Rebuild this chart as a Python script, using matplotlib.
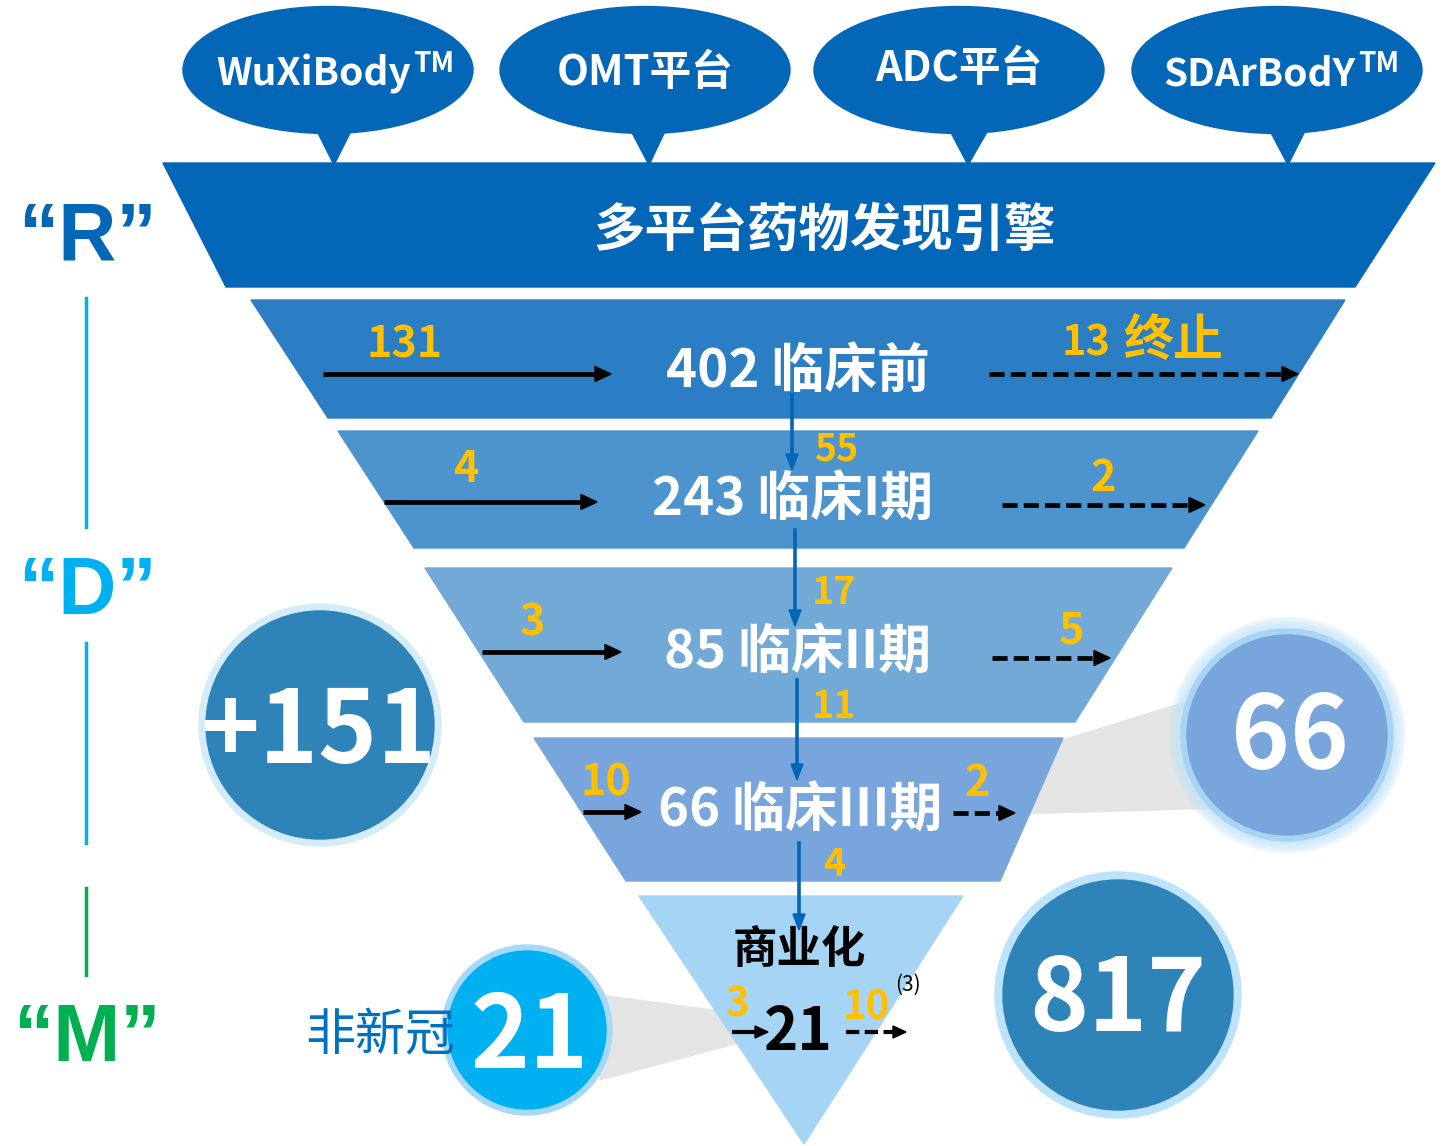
import matplotlib.pyplot as plt
from matplotlib.patches import Polygon, Ellipse, Circle

plt.rcParams['font.family'] = ['Noto Sans CJK SC', 'DejaVu Sans']

# ---- data ----
platforms = ['WuXiBody', 'OMT平台', 'ADC平台', 'SDArBodY']
platform_tm = [True, False, False, True]
engine_label = '多平台药物发现引擎'

stages = ['临床前', '临床I期', '临床II期', '临床III期']
stage_counts = [402, 243, 85, 66]
inflow = [131, 4, 3, 10]          # solid arrows in
outflow = [13, 2, 5, 2]           # dashed arrows out
advanced = [55, 17, 11, 4]        # moved on to the next stage

commercial_label = '商业化'
commercial_count = 21
commercial_in = 3
commercial_out = 10
commercial_note = '(3)'

new_added = 151
phase3_total = 66
pipeline_total = 817
non_covid = 21

rdm_labels = ['“R”', '“D”', '“M”']

# ---- layout ----
DARK = '#0366B6'
YELLOW = '#FFC000'
band_colors = ['#2B7EC3', '#4D94CE', '#73A9D6', '#78A6DC']
band_y = [(300, 418), (431, 548), (568, 722), (738, 881)]
band_top = [(251, 1345), (338, 1258), (425, 1172), (534, 1063)]
band_bot = [(328, 1271), (414, 1184), (524, 1075), (626, 1000)]
label_xy = [(798, 371), (793, 499), (797, 652), (800, 810)]
in_arrow = [(323, 611, 374), (384, 597, 502), (482, 621, 652), (583, 641, 812)]
in_xy = [(405, 344), (466, 469), (533, 623), (606, 783)]
out_arrow = [(989, 1298, 374), (1002, 1205, 505), (992, 1110, 658), (953, 1015, 813)]
out_xy = [(1143, 344), (1103, 478), (1072, 630), (977, 783)]
down_x = [792, 795, 797, 799]
down_y = [(395, 470), (530, 626), (680, 780), (843, 930)]
adv_xy = [(836, 449), (834, 593), (834, 706), (834, 865)]
bubble_x = [328, 645, 959, 1277]
tail_x = [(314, 354, 334), (628, 668, 649), (947, 991, 968), (1267, 1308, 1288)]

fig = plt.figure(figsize=(14.45, 11.46), dpi=100)
ax = fig.add_axes([0, 0, 1, 1])
ax.set_xlim(0, 1445)
ax.set_ylim(1146, 0)
ax.axis('off')


def arrow(x0, x1, y, dashed=False, color='black', lw=3.4, hl=16, hw=15):
    ls = (0, (3.2, 1.3)) if dashed else '-'
    ax.plot([x0, x1 - hl], [y, y], color=color, lw=lw, ls=ls, solid_capstyle='butt',
            dash_capstyle='butt', zorder=6)
    ax.add_patch(Polygon([(x1 - hl, y - hw / 2), (x1, y), (x1 - hl, y + hw / 2)],
                         closed=True, color=color, zorder=6))


def down_arrow(x, y0, y1):
    ax.plot([x, x], [y0, y1 - 14], color=DARK, lw=2.6, zorder=6)
    ax.add_patch(Polygon([(x - 6, y1 - 16), (x, y1), (x + 6, y1 - 16)], closed=True,
                         color=DARK, zorder=6))


# speech bubbles with platforms
for i, name in enumerate(platforms):
    cx = bubble_x[i]
    ax.add_patch(Ellipse((cx, 70), 290, 127, color=DARK, zorder=2))
    a, b, tip = tail_x[i]
    ax.add_patch(Polygon([(a, 125), (b, 125), (tip, 165)], closed=True, color=DARK, zorder=2))
    if platform_tm[i]:
        split = cx + 83 if i == 0 else cx + 79
        ax.text(split, 74, name, color='white', fontsize=28, fontweight='bold',
                ha='right', va='center', zorder=3)
        ax.text(split + 2, 64, 'TM', color='white', fontsize=20, fontweight='bold',
                ha='left', va='center', zorder=3)
    else:
        ax.text(cx, 73 if i == 1 else 69, name, color='white', fontsize=30,
                fontweight='bold', ha='center', va='center', zorder=3)

# top band
ax.add_patch(Polygon([(163, 163), (1435, 163), (1355, 287), (226, 287)], closed=True,
                     color=DARK, zorder=2))
ax.text(824, 230, engine_label, color='white', fontsize=37, fontweight='bold',
        ha='center', va='center', zorder=3)

# grey callout wedges (behind the funnel)
ax.add_patch(Polygon([(1063, 740), (1192, 700), (1222, 808), (1012, 814)], closed=True,
                     color='#E4E4E4', zorder=1))
ax.add_patch(Polygon([(600, 995), (735, 1013), (738, 1043), (600, 1080)], closed=True,
                     color='#E4E4E4', zorder=1))

# funnel stages
for i, st in enumerate(stages):
    y0, y1 = band_y[i]
    ax.add_patch(Polygon([(band_top[i][0], y0), (band_top[i][1], y0),
                          (band_bot[i][1], y1), (band_bot[i][0], y1)],
                         closed=True, color=band_colors[i], zorder=2))
    ax.text(*label_xy[i], f'{stage_counts[i]} {st}', color='white', fontsize=38,
            fontweight='bold', ha='center', va='center', zorder=5)
    arrow(*in_arrow[i])
    ax.text(*in_xy[i], str(inflow[i]), color=YELLOW, fontsize=31, fontweight='bold',
            ha='center', va='center', zorder=5)
    arrow(*out_arrow[i], dashed=True)
    if i == 0:
        ax.text(out_xy[i][0] - 32, out_xy[i][1], str(outflow[i]), color=YELLOW,
                fontsize=30, fontweight='bold', ha='right', va='center', zorder=5)
        ax.text(out_xy[i][0] - 20, out_xy[i][1] - 3, '终止', color=YELLOW,
                fontsize=36, fontweight='bold', ha='left', va='center', zorder=5)
    else:
        ax.text(*out_xy[i], str(outflow[i]), color=YELLOW, fontsize=31,
                fontweight='bold', ha='center', va='center', zorder=5)
    down_arrow(down_x[i], *down_y[i])
    ax.text(*adv_xy[i], str(advanced[i]), color=YELLOW, fontsize=27, fontweight='bold',
            ha='center', va='center', zorder=5)

# commercial triangle
ax.add_patch(Polygon([(639, 896), (963, 896), (804, 1144)], closed=True,
                     color='#A6D4F5', zorder=2))
ax.text(799, 950, commercial_label, color='black', fontsize=32, fontweight='bold',
        ha='center', va='center', zorder=5)
ax.text(798, 1033, str(commercial_count), color='black', fontsize=42, fontweight='bold',
        ha='center', va='center', zorder=5)
ax.text(737, 1005, str(commercial_in), color=YELLOW, fontsize=29, fontweight='bold',
        ha='center', va='center', zorder=5)
arrow(732, 768, 1032, lw=3, hl=13, hw=12)
ax.text(866, 1008, str(commercial_out), color=YELLOW, fontsize=29, fontweight='bold',
        ha='center', va='center', zorder=5)
arrow(846, 906, 1032, dashed=True, lw=3, hl=13, hw=12)
ax.text(908, 985, commercial_note, color='black', fontsize=15, ha='center',
        va='center', zorder=5)

# big circles
ax.add_patch(Circle((320, 725), 121, color='#D4ECFA', zorder=3))
ax.add_patch(Circle((320, 725), 114, color='#2E83B8', zorder=3))
ax.text(318, 733, f'+{new_added}', color='white', fontsize=72, fontweight='bold',
        ha='center', va='center', zorder=4)

for k in range(10):
    ax.add_patch(Circle((1287, 735), 118 - k * 1.3, color='#BFE3FA', alpha=0.12, zorder=3))
ax.add_patch(Circle((1287, 735), 106, color='#A7D4F3', zorder=3))
ax.add_patch(Circle((1287, 735), 100, color='#78A6DC', zorder=3))
ax.text(1290, 740, str(phase3_total), color='white', fontsize=72, fontweight='bold',
        ha='center', va='center', zorder=4)

ax.add_patch(Circle((1118, 995), 123, color='#BDE3FA', zorder=3))
ax.add_patch(Circle((1118, 995), 115, color='#2E83B8', zorder=3))
ax.text(1118, 1001, str(pipeline_total), color='white', fontsize=72, fontweight='bold',
        ha='center', va='center', zorder=4)

ax.add_patch(Circle((527, 1030), 85, color='#A8D8F8', zorder=3))
ax.add_patch(Circle((527, 1030), 79, color='#00B0F0', zorder=3))
ax.text(530, 1038, str(non_covid), color='white', fontsize=72, fontweight='bold',
        ha='center', va='center', zorder=4)
ax.text(380, 1036, '非新冠', color='#0070C0', fontsize=36, ha='center', va='center',
        zorder=5)

# R / D / M side labels
rdm_colors = [DARK, '#00B0F0', '#00B050']
rdm_y = [238, 593, 1040]
for lab, c, y in zip(rdm_labels, rdm_colors, rdm_y):
    ax.text(87, y, lab, color=c, fontsize=58, fontweight='bold', ha='center',
            va='center', family=['Liberation Sans', 'DejaVu Sans'], zorder=5)
ax.plot([86, 86], [298, 527], color='#00B0F0', lw=2.5)
ax.plot([86, 86], [643, 843], color='#00B0F0', lw=2.5)
ax.plot([86, 86], [888, 975], color='#00B050', lw=2.5)

fig.savefig('out.png', dpi=100)
